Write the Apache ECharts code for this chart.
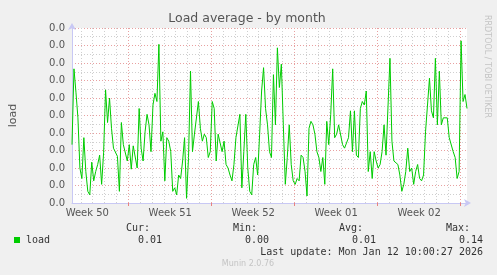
<!DOCTYPE html>
<html>
<head>
<meta charset="utf-8">
<script src="https://cdn.jsdelivr.net/npm/echarts@6/dist/echarts.min.js"></script>
<style>
html,body{margin:0;padding:0;background:#f0f0f0;}
#chart{width:497px;height:275px;}
</style>
</head>
<body>
<div id="chart"></div>
<script>
// ---- data (hours since Mon 2025-12-08 00:00, 4h samples) ----
var START_HOUR = 54;
var STEP_HOURS = 4;
var loadValues = [
0.050,0.115,0.095,0.073,0.030,0.021,0.056,0.027,0.010,0.007,
0.035,0.019,0.027,0.033,0.041,0.016,0.043,0.097,0.069,0.090,
0.064,0.047,0.047,0.040,0.010,0.069,0.050,0.050,0.036,0.050,
0.029,0.049,0.050,0.030,0.081,0.047,0.036,0.061,0.076,0.067,
0.044,0.084,0.094,0.087,0.136,0.053,0.061,0.019,0.056,0.053,
0.044,0.010,0.013,0.007,0.024,0.021,0.036,0.056,0.004,0.039,
0.113,0.044,0.059,0.059,0.087,0.064,0.053,0.059,0.056,0.039,
0.044,0.087,0.081,0.036,0.059,0.059,0.044,0.053,0.033,0.030,
0.024,0.019,0.033,0.056,0.056,0.076,0.013,0.044,0.076,0.030,
0.010,0.007,0.033,0.039,0.024,0.059,0.096,0.116,0.081,0.067,
0.044,0.039,0.110,0.067,0.133,0.099,0.119,0.067,0.016,0.039,
0.067,0.033,0.019,0.016,0.021,0.019,0.041,0.039,0.027,0.006,
0.064,0.070,0.067,0.059,0.044,0.039,0.027,0.039,0.016,0.070,
0.050,0.076,0.115,0.056,0.059,0.067,0.067,0.050,0.047,0.047,
0.056,0.079,0.044,0.079,0.041,0.039,0.081,0.087,0.084,0.096,
0.027,0.044,0.021,0.044,0.036,0.030,0.033,0.044,0.067,0.041,
0.041,0.124,0.053,0.036,0.036,0.033,0.024,0.010,0.016,0.027,
0.047,0.027,0.030,0.016,0.027,0.033,0.021,0.019,0.024,0.061,
0.084,0.107,0.079,0.073,0.124,0.067,0.113,0.067,0.073,0.073,
0.073,0.056,0.056,0.044,0.039,0.021,0.027,0.139,0.087,0.093,
0.081
];
var weekLabels = ['Week 50','Week 51','Week 52','Week 01','Week 02'];
var weekLabelHours = [85, 253, 421, 589, 757];
var weekBoundaryHours = [168, 336, 504, 672, 840];
var dayHours = [72,96,120,144,192,216,240,264,288,312,360,384,408,432,456,480,528,552,576,600,624,648,696,720,744,768,792,816];
var yTickLabels = ['0.0','0.0','0.0','0.0','0.0','0.0','0.0','0.0','0.0','0.0','0.0'];
var statHeaders = ['Cur:','Min:','Avg:','Max:'];
var statValues = ['0.01','0.00','0.01','0.14'];
var seriesName = 'load';

var seriesData = loadValues.map(function(v,i){ return [START_HOUR + i*STEP_HOURS, v]; });

var chart = echarts.init(document.getElementById('chart'));
var txtColor = '#555';
var monoFont = '"DejaVu Sans Mono", monospace';

var statHeaderX = [150,257,363,470];
var statValueX = [162,269,376,483];
var graphics = [
  {type:'text', left:'center', x:0, style:{text:'Load average - by month', x:247, y:19, textAlign:'center', textVerticalAlign:'middle', fill:'#555', font:'12.5px "DejaVu Sans"'}},
  {type:'text', x:487, y:15, rotation:-Math.PI/2, style:{text:'RRDTOOL / TOBI OETIKER', textAlign:'left', textVerticalAlign:'middle', fill:'#c4c4c4', font:'8px "DejaVu Sans"'}},
  {type:'rect', shape:{x:14, y:237, width:6, height:6}, style:{fill:'#00cc00'}},
  {type:'text', style:{text:seriesName, x:26, y:240, textAlign:'left', textVerticalAlign:'middle', fill:'#333', font:'10px ' + monoFont}},
  {type:'text', style:{text:'Last update: Mon Jan 12 10:00:27 2026', x:483, y:252, textAlign:'right', textVerticalAlign:'middle', fill:'#333', font:'10px ' + monoFont}},
  {type:'text', style:{text:'Munin 2.0.76', x:248, y:264, textAlign:'center', textVerticalAlign:'middle', fill:'#c4c4c4', font:'8px "DejaVu Sans"'}}
];
statHeaders.forEach(function(h,i){
  graphics.push({type:'text', style:{text:h, x:statHeaderX[i], y:228, textAlign:'right', textVerticalAlign:'middle', fill:'#333', font:'10px ' + monoFont}});
  graphics.push({type:'text', style:{text:statValues[i], x:statValueX[i], y:240, textAlign:'right', textVerticalAlign:'middle', fill:'#333', font:'10px ' + monoFont}});
});
// fix title graphic (use absolute style coords)
graphics[0] = {type:'text', style:{text:'Load average - by month', x:247, y:19, textAlign:'center', textVerticalAlign:'middle', fill:'#555', font:'12.5px "DejaVu Sans"'}};

var minorLines = dayHours.map(function(h){ return {xAxis:h, lineStyle:{color:'#cfcfcf', type:[1,2], width:1}}; });
var majorLines = weekBoundaryHours.map(function(h){ return {xAxis:h, lineStyle:{color:'#e8a0a0', type:[1,2], width:1}}; });

chart.setOption({
  animation:false,
  backgroundColor:'#f0f0f0',
  grid:{left:67, top:28, width:400, height:175, show:true, backgroundColor:'#ffffff', borderWidth:0},
  xAxis:{
    type:'value', min:54, max:854,
    axisLine:{show:true, lineStyle:{color:'#c8c8f4', width:1}, symbol:['none','arrow'], symbolSize:[6,7], symbolOffset:[0,4]},
    axisTick:{show:true, customValues:weekBoundaryHours, length:3, inside:false, lineStyle:{color:'#e88080'}},
    axisLabel:{customValues:weekLabelHours, formatter:function(v){ return weekLabels[weekLabelHours.indexOf(v)]; }, color:txtColor, fontSize:10, fontFamily:'DejaVu Sans', margin:5},
    splitLine:{show:false}
  },
  yAxis:{
    type:'value', min:0, max:0.15, interval:0.015,
    name:'load', nameLocation:'middle', nameRotate:90, nameGap:53,
    nameTextStyle:{color:txtColor, fontSize:11, fontFamily:'DejaVu Sans'},
    axisLine:{show:true, lineStyle:{color:'#c8c8f4', width:1}, symbol:['none','arrow'], symbolSize:[6,7], symbolOffset:[0,5]},
    axisTick:{show:false},
    axisLabel:{formatter:function(v){ return yTickLabels[Math.round(v/0.015)]; }, color:txtColor, fontSize:10, fontFamily:'DejaVu Sans', margin:7},
    splitLine:{show:true, lineStyle:{color:'#e8a0a0', type:[1,2], width:1}},
    minorTick:{show:false, splitNumber:2},
    minorSplitLine:{show:true, lineStyle:{color:'#cfcfcf', type:[1,2], width:1}}
  },
  series:[{
    name:seriesName, type:'line', data:seriesData, showSymbol:false, symbol:'none',
    lineStyle:{color:'#00cc00', width:1}, z:3,
    markLine:{silent:true, symbol:'none', label:{show:false}, emphasis:{disabled:true}, z:1,
      data: minorLines.concat(majorLines)}
  }],
  graphic:graphics
});
</script>
</body>
</html>
